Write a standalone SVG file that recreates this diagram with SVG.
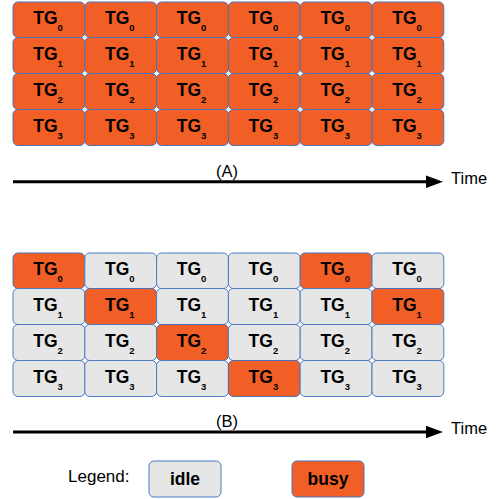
<svg xmlns="http://www.w3.org/2000/svg" width="496" height="499" viewBox="0 0 496 499">
<style>
.busy{fill:#f15f27;stroke:#4a72b8;stroke-width:1}
.idle{fill:#e6e6e6;stroke:#4a7bc4;stroke-width:1}
.tg{font-family:"Liberation Sans",Arial,sans-serif;font-weight:bold;font-size:17.5px;fill:#000;text-anchor:middle}
.sub{font-size:9.5px}
.lbl{font-family:"Liberation Sans",Arial,sans-serif;font-size:16.5px;fill:#000}
.leg{font-family:"Liberation Sans",Arial,sans-serif;font-weight:bold;font-size:17.5px;fill:#000;text-anchor:middle}
.axis{stroke:#000;stroke-width:3;fill:none}
</style>
<g id="gridA">
<g id="a00"><rect class="busy" x="13" y="2" width="71.8" height="35.5" rx="5"/><text class="tg" x="48" y="24">TG<tspan class="sub" dy="7">0</tspan></text></g>
<g id="a01"><rect class="busy" x="84.8" y="2" width="71.8" height="35.5" rx="5"/><text class="tg" x="119.8" y="24">TG<tspan class="sub" dy="7">0</tspan></text></g>
<g id="a02"><rect class="busy" x="156.6" y="2" width="71.8" height="35.5" rx="5"/><text class="tg" x="191.6" y="24">TG<tspan class="sub" dy="7">0</tspan></text></g>
<g id="a03"><rect class="busy" x="228.4" y="2" width="71.8" height="35.5" rx="5"/><text class="tg" x="263.4" y="24">TG<tspan class="sub" dy="7">0</tspan></text></g>
<g id="a04"><rect class="busy" x="300.2" y="2" width="71.8" height="35.5" rx="5"/><text class="tg" x="335.2" y="24">TG<tspan class="sub" dy="7">0</tspan></text></g>
<g id="a05"><rect class="busy" x="372" y="2" width="71.8" height="35.5" rx="5"/><text class="tg" x="407" y="24">TG<tspan class="sub" dy="7">0</tspan></text></g>

<g id="a10"><rect class="busy" x="13" y="37.5" width="71.8" height="36" rx="5"/><text class="tg" x="48" y="59.5">TG<tspan class="sub" dy="7">1</tspan></text></g>
<g id="a11"><rect class="busy" x="84.8" y="37.5" width="71.8" height="36" rx="5"/><text class="tg" x="119.8" y="59.5">TG<tspan class="sub" dy="7">1</tspan></text></g>
<g id="a12"><rect class="busy" x="156.6" y="37.5" width="71.8" height="36" rx="5"/><text class="tg" x="191.6" y="59.5">TG<tspan class="sub" dy="7">1</tspan></text></g>
<g id="a13"><rect class="busy" x="228.4" y="37.5" width="71.8" height="36" rx="5"/><text class="tg" x="263.4" y="59.5">TG<tspan class="sub" dy="7">1</tspan></text></g>
<g id="a14"><rect class="busy" x="300.2" y="37.5" width="71.8" height="36" rx="5"/><text class="tg" x="335.2" y="59.5">TG<tspan class="sub" dy="7">1</tspan></text></g>
<g id="a15"><rect class="busy" x="372" y="37.5" width="71.8" height="36" rx="5"/><text class="tg" x="407" y="59.5">TG<tspan class="sub" dy="7">1</tspan></text></g>

<g id="a20"><rect class="busy" x="13" y="73.5" width="71.8" height="36" rx="5"/><text class="tg" x="48" y="95.5">TG<tspan class="sub" dy="7">2</tspan></text></g>
<g id="a21"><rect class="busy" x="84.8" y="73.5" width="71.8" height="36" rx="5"/><text class="tg" x="119.8" y="95.5">TG<tspan class="sub" dy="7">2</tspan></text></g>
<g id="a22"><rect class="busy" x="156.6" y="73.5" width="71.8" height="36" rx="5"/><text class="tg" x="191.6" y="95.5">TG<tspan class="sub" dy="7">2</tspan></text></g>
<g id="a23"><rect class="busy" x="228.4" y="73.5" width="71.8" height="36" rx="5"/><text class="tg" x="263.4" y="95.5">TG<tspan class="sub" dy="7">2</tspan></text></g>
<g id="a24"><rect class="busy" x="300.2" y="73.5" width="71.8" height="36" rx="5"/><text class="tg" x="335.2" y="95.5">TG<tspan class="sub" dy="7">2</tspan></text></g>
<g id="a25"><rect class="busy" x="372" y="73.5" width="71.8" height="36" rx="5"/><text class="tg" x="407" y="95.5">TG<tspan class="sub" dy="7">2</tspan></text></g>

<g id="a30"><rect class="busy" x="13" y="109.5" width="71.8" height="36" rx="5"/><text class="tg" x="48" y="131.5">TG<tspan class="sub" dy="7">3</tspan></text></g>
<g id="a31"><rect class="busy" x="84.8" y="109.5" width="71.8" height="36" rx="5"/><text class="tg" x="119.8" y="131.5">TG<tspan class="sub" dy="7">3</tspan></text></g>
<g id="a32"><rect class="busy" x="156.6" y="109.5" width="71.8" height="36" rx="5"/><text class="tg" x="191.6" y="131.5">TG<tspan class="sub" dy="7">3</tspan></text></g>
<g id="a33"><rect class="busy" x="228.4" y="109.5" width="71.8" height="36" rx="5"/><text class="tg" x="263.4" y="131.5">TG<tspan class="sub" dy="7">3</tspan></text></g>
<g id="a34"><rect class="busy" x="300.2" y="109.5" width="71.8" height="36" rx="5"/><text class="tg" x="335.2" y="131.5">TG<tspan class="sub" dy="7">3</tspan></text></g>
<g id="a35"><rect class="busy" x="372" y="109.5" width="71.8" height="36" rx="5"/><text class="tg" x="407" y="131.5">TG<tspan class="sub" dy="7">3</tspan></text></g>
</g>

<g id="gridB">
<g id="b00"><rect class="busy" x="13" y="253" width="71.8" height="35.5" rx="5"/><text class="tg" x="48" y="275">TG<tspan class="sub" dy="7">0</tspan></text></g>
<g id="b01"><rect class="idle" x="84.8" y="253" width="71.8" height="35.5" rx="5"/><text class="tg" x="119.8" y="275">TG<tspan class="sub" dy="7">0</tspan></text></g>
<g id="b02"><rect class="idle" x="156.6" y="253" width="71.8" height="35.5" rx="5"/><text class="tg" x="191.6" y="275">TG<tspan class="sub" dy="7">0</tspan></text></g>
<g id="b03"><rect class="idle" x="228.4" y="253" width="71.8" height="35.5" rx="5"/><text class="tg" x="263.4" y="275">TG<tspan class="sub" dy="7">0</tspan></text></g>
<g id="b04"><rect class="busy" x="300.2" y="253" width="71.8" height="35.5" rx="5"/><text class="tg" x="335.2" y="275">TG<tspan class="sub" dy="7">0</tspan></text></g>
<g id="b05"><rect class="idle" x="372" y="253" width="71.8" height="35.5" rx="5"/><text class="tg" x="407" y="275">TG<tspan class="sub" dy="7">0</tspan></text></g>

<g id="b10"><rect class="idle" x="13" y="288.5" width="71.8" height="36" rx="5"/><text class="tg" x="48" y="310.5">TG<tspan class="sub" dy="7">1</tspan></text></g>
<g id="b11"><rect class="busy" x="84.8" y="288.5" width="71.8" height="36" rx="5"/><text class="tg" x="119.8" y="310.5">TG<tspan class="sub" dy="7">1</tspan></text></g>
<g id="b12"><rect class="idle" x="156.6" y="288.5" width="71.8" height="36" rx="5"/><text class="tg" x="191.6" y="310.5">TG<tspan class="sub" dy="7">1</tspan></text></g>
<g id="b13"><rect class="idle" x="228.4" y="288.5" width="71.8" height="36" rx="5"/><text class="tg" x="263.4" y="310.5">TG<tspan class="sub" dy="7">1</tspan></text></g>
<g id="b14"><rect class="idle" x="300.2" y="288.5" width="71.8" height="36" rx="5"/><text class="tg" x="335.2" y="310.5">TG<tspan class="sub" dy="7">1</tspan></text></g>
<g id="b15"><rect class="busy" x="372" y="288.5" width="71.8" height="36" rx="5"/><text class="tg" x="407" y="310.5">TG<tspan class="sub" dy="7">1</tspan></text></g>

<g id="b20"><rect class="idle" x="13" y="324.5" width="71.8" height="36" rx="5"/><text class="tg" x="48" y="346.5">TG<tspan class="sub" dy="7">2</tspan></text></g>
<g id="b21"><rect class="idle" x="84.8" y="324.5" width="71.8" height="36" rx="5"/><text class="tg" x="119.8" y="346.5">TG<tspan class="sub" dy="7">2</tspan></text></g>
<g id="b22"><rect class="busy" x="156.6" y="324.5" width="71.8" height="36" rx="5"/><text class="tg" x="191.6" y="346.5">TG<tspan class="sub" dy="7">2</tspan></text></g>
<g id="b23"><rect class="idle" x="228.4" y="324.5" width="71.8" height="36" rx="5"/><text class="tg" x="263.4" y="346.5">TG<tspan class="sub" dy="7">2</tspan></text></g>
<g id="b24"><rect class="idle" x="300.2" y="324.5" width="71.8" height="36" rx="5"/><text class="tg" x="335.2" y="346.5">TG<tspan class="sub" dy="7">2</tspan></text></g>
<g id="b25"><rect class="idle" x="372" y="324.5" width="71.8" height="36" rx="5"/><text class="tg" x="407" y="346.5">TG<tspan class="sub" dy="7">2</tspan></text></g>

<g id="b30"><rect class="idle" x="13" y="360.5" width="71.8" height="36" rx="5"/><text class="tg" x="48" y="382.5">TG<tspan class="sub" dy="7">3</tspan></text></g>
<g id="b31"><rect class="idle" x="84.8" y="360.5" width="71.8" height="36" rx="5"/><text class="tg" x="119.8" y="382.5">TG<tspan class="sub" dy="7">3</tspan></text></g>
<g id="b32"><rect class="idle" x="156.6" y="360.5" width="71.8" height="36" rx="5"/><text class="tg" x="191.6" y="382.5">TG<tspan class="sub" dy="7">3</tspan></text></g>
<g id="b33"><rect class="busy" x="228.4" y="360.5" width="71.8" height="36" rx="5"/><text class="tg" x="263.4" y="382.5">TG<tspan class="sub" dy="7">3</tspan></text></g>
<g id="b34"><rect class="idle" x="300.2" y="360.5" width="71.8" height="36" rx="5"/><text class="tg" x="335.2" y="382.5">TG<tspan class="sub" dy="7">3</tspan></text></g>
<g id="b35"><rect class="idle" x="372" y="360.5" width="71.8" height="36" rx="5"/><text class="tg" x="407" y="382.5">TG<tspan class="sub" dy="7">3</tspan></text></g>
</g>

<g id="connectors">
<line class="axis" x1="13" y1="181.7" x2="428" y2="181.7"/>
<polygon points="426,175.5 443,181.7 426,188" fill="#000"/>
<line class="axis" x1="13" y1="432" x2="428" y2="432"/>
<polygon points="426,425.8 443,432 426,438.2" fill="#000"/>
</g>

<g id="labels">
<text class="lbl" x="227" y="177" text-anchor="middle">(A)</text>
<text class="lbl" x="451" y="184">Time</text>
<text class="lbl" x="227" y="427" text-anchor="middle">(B)</text>
<text class="lbl" x="451" y="434">Time</text>
<text class="lbl" x="129.5" y="482" text-anchor="end" style="font-size:17px">Legend:</text>
</g>

<g id="legend-idle"><rect class="idle" x="149" y="461" width="72" height="36" rx="5"/><text class="leg" x="185" y="485">idle</text></g>
<g id="legend-busy"><rect class="busy" x="292" y="461" width="72" height="36" rx="5"/><text class="leg" x="328" y="485">busy</text></g>
</svg>
